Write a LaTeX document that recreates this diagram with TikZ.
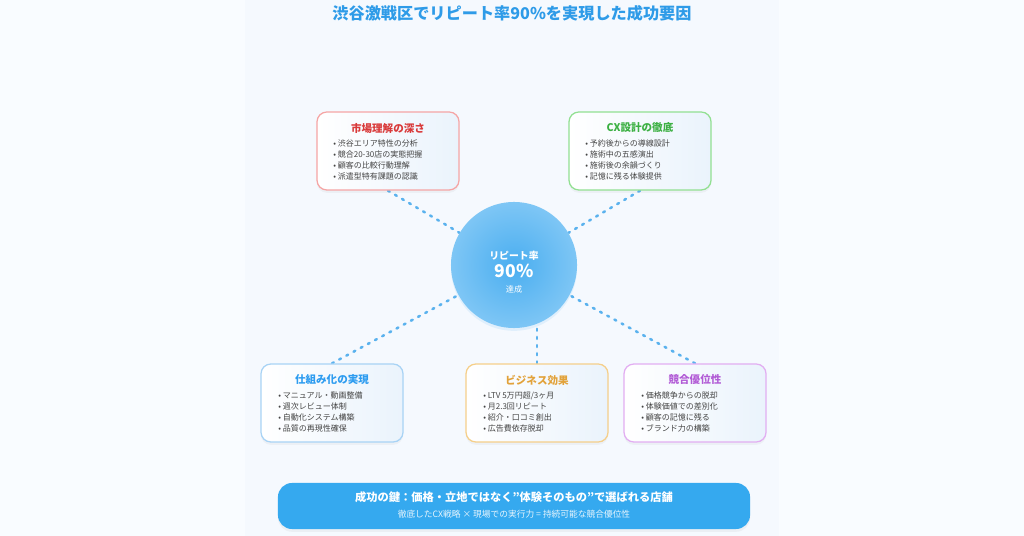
\documentclass[tikz,border=0pt]{standalone}
\usepackage{fontspec}
\setmainfont{Noto Sans CJK JP}
\usetikzlibrary{shadows}
\pgfdeclarelayer{background}
\pgfdeclarelayer{foreground}
\pgfsetlayers{background,main,foreground}
\definecolor{pagebg}{HTML}{F9FCFF}
\definecolor{panelbg}{HTML}{F5F9FE}
\definecolor{titleblue}{HTML}{2E9BE8}
\definecolor{cardbg}{HTML}{EAF3FC}
\definecolor{listgray}{HTML}{444444}
\definecolor{linkblue}{HTML}{5AB2EE}
\definecolor{hubin}{HTML}{4AAEF0}
\definecolor{hubout}{HTML}{B2DEFA}
\definecolor{keyblue}{HTML}{35A9EF}
\definecolor{redline}{HTML}{F5A5A5}
\definecolor{redtext}{HTML}{D93A3A}
\definecolor{greenline}{HTML}{92E092}
\definecolor{greentext}{HTML}{3CB043}
\definecolor{blueline}{HTML}{A8D3F5}
\definecolor{bluetext}{HTML}{2D9CF0}
\definecolor{orangeline}{HTML}{F5CF8A}
\definecolor{orangetext}{HTML}{E2A23A}
\definecolor{purpleline}{HTML}{E2AEF2}
\definecolor{purpletext}{HTML}{B25CD6}
\pgfdeclareradialshading{hubshade}{\pgfpoint{0bp}{0bp}}{color(0bp)=(hubin); color(50bp)=(hubout)}

\begin{document}
\begin{tikzpicture}[x=0.025cm,y=-0.025cm,
  card/.style={draw=#1,line width=0.9pt,rounded corners=7pt,minimum width=3.55cm,minimum height=1.95cm,
    left color=white,right color=cardbg,drop shadow={opacity=0.07,shadow xshift=0pt,shadow yshift=-2pt}},
  cardhead/.style={text=#1,inner sep=0pt,font=\fontsize{7.5}{9}\selectfont\bfseries},
  cardlist/.style={anchor=west,align=left,inner sep=0pt,text=listgray,font=\fontsize{5.7}{7.7}\selectfont},
  link/.style={draw=linkblue,line width=1.8pt,line cap=round,dash pattern=on 1.4pt off 4.4pt}]
\useasboundingbox (0,0) rectangle (1024,536);
\begin{pgfonlayer}{background}
\fill[pagebg] (0,0) rectangle (1024,536);
\fill[panelbg] (245,0) rectangle (779,536);
\end{pgfonlayer}
% title
\node[text=titleblue,font=\fontsize{11.5}{13}\selectfont\bfseries] (title) at (512,13) {渋谷激戦区でリピート率90\%を実現した成功要因};
% centre
\node[circle,minimum size=3.15cm,shading=hubshade,drop shadow={opacity=0.12,shadow xshift=0pt,shadow yshift=-2pt,fill=hubin}] (hub) at (514,265) {};
\node[text=white,font=\fontsize{7}{8}\selectfont\bfseries] (hubA) at (514,256) {リピート率};
\node[text=white,font=\fontsize{12.5}{14}\selectfont\bfseries] (hubB) at (514,271) {90\%};
\node[text=white,font=\fontsize{5.8}{7}\selectfont] (hubC) at (514,289) {達成};
% cards
\node[card=redline] (market) at (388,151) {};
\node[cardhead=redtext] (marketT) at (388,128) {市場理解の深さ};
\node[cardlist] (marketL) at (333,160) {• 渋谷エリア特性の分析\\• 競合20-30店の実態把握\\• 顧客の比較行動理解\\• 派遣型特有課題の認識};
\node[card=greenline] (cx) at (640,151) {};
\node[cardhead=greentext] (cxT) at (640,128) {CX設計の徹底};
\node[cardlist] (cxL) at (585,160) {• 予約後からの導線設計\\• 施術中の五感演出\\• 施術後の余韻づくり\\• 記憶に残る体験提供};
\node[card=blueline] (system) at (332,403) {};
\node[cardhead=bluetext] (systemT) at (332,380) {仕組み化の実現};
\node[cardlist] (systemL) at (278,412) {• マニュアル・動画整備\\• 週次レビュー体制\\• 自動化システム構築\\• 品質の再現性確保};
\node[card=orangeline] (business) at (537,403) {};
\node[cardhead=orangetext] (businessT) at (537,380) {ビジネス効果};
\node[cardlist] (businessL) at (483,412) {• LTV 5万円超/3ヶ月\\• 月2.3回リピート\\• 紹介・口コミ創出\\• 広告費依存脱却};
\node[card=purpleline] (edge) at (695,403) {};
\node[cardhead=purpletext] (edgeT) at (695,380) {競合優位性};
\node[cardlist] (edgeL) at (641,412) {• 価格競争からの脱却\\• 体験価値での差別化\\• 顧客の記憶に残る\\• ブランド力の構築};
% key message
\node[fill=keyblue,rounded corners=10pt,minimum width=11.8cm,minimum height=1.15cm,
  drop shadow={opacity=0.08,shadow xshift=0pt,shadow yshift=-2pt}] (key) at (514,506) {};
\node[text=white,font=\fontsize{8}{9}\selectfont\bfseries] (keyT) at (514,497) {成功の鍵：価格・立地ではなく"体験そのもの"で選ばれる店舗};
\node[text=white!88!keyblue,font=\fontsize{6.2}{7}\selectfont] (keyS) at (514,514) {徹底したCX戦略 × 現場での実行力 = 持続可能な競合優位性};
\begin{pgfonlayer}{background}
\draw[link] (market.south) -- (hub);
\draw[link] (cx.south) -- (hub);
\draw[link] (system.north) -- (hub);
\draw[link] (business.north) -- (business.north |- hub.south);
\draw[link] (edge.north) -- (hub);
\end{pgfonlayer}
\end{tikzpicture}
\end{document}
